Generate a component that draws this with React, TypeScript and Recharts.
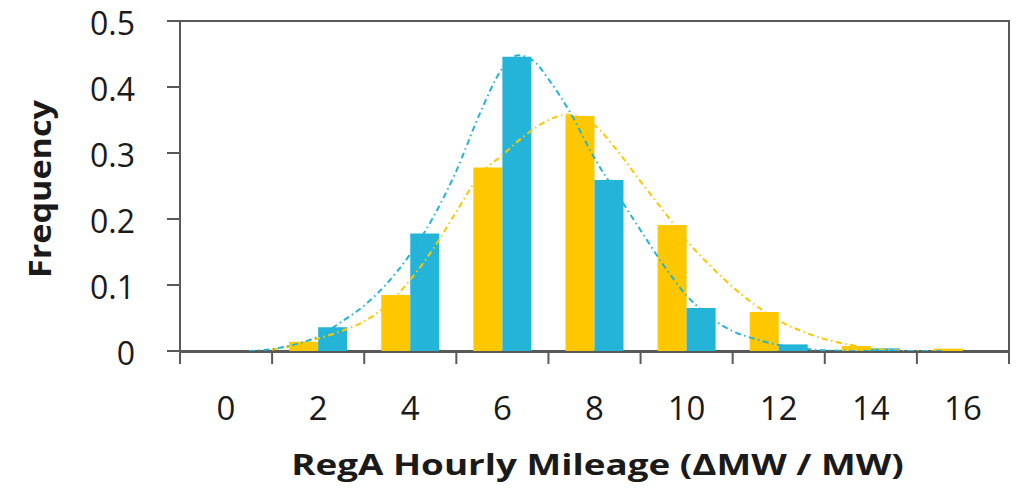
import React from 'react';
import { ComposedChart, Bar, Line, XAxis, YAxis, ReferenceArea } from 'recharts';

// Histogram bins (bin centres)
const categories = [0, 2, 4, 6, 8, 10, 12, 14, 16];
const yellowFreq = [0, 0.014, 0.085, 0.278, 0.356, 0.191, 0.059, 0.0075, 0.0035];
const blueFreq = [0, 0.036, 0.178, 0.446, 0.259, 0.065, 0.01, 0.004, 0];

const yTicks = [0, 0.1, 0.2, 0.3, 0.4, 0.5];
const yDomain: [number, number] = [0, 0.5];
const binEdges = [-1, 1, 3, 5, 7, 9, 11, 13, 15, 17];
const xDomain: [number, number] = [-1, 17];

// Fitted curves
const blueCurveX = [0.5, 1, 1.5, 2, 2.5, 3, 3.5, 4, 4.5, 5, 5.5, 6, 6.35, 6.7, 7, 7.5, 8, 8.5, 9, 9.5, 10, 10.5, 11, 11.5, 12, 12.5, 13, 14, 15, 15.6];
const blueCurveY = [0, 0.003, 0.01, 0.022, 0.044, 0.069, 0.103, 0.147, 0.203, 0.273, 0.358, 0.428, 0.448, 0.438, 0.412, 0.358, 0.292, 0.237, 0.183, 0.13, 0.084, 0.052, 0.03, 0.018, 0.009, 0.004, 0.001, 0, 0, 0];

const yellowCurveX = [1, 1.5, 2, 2.5, 3, 3.5, 4, 4.5, 5, 5.5, 6, 6.5, 7, 7.4, 8, 8.5, 9, 9.5, 10, 10.5, 11, 11.5, 12, 12.5, 13, 13.5, 14, 14.5, 15, 15.7];
const yellowCurveY = [0.002, 0.009, 0.019, 0.03, 0.045, 0.07, 0.108, 0.155, 0.211, 0.266, 0.297, 0.327, 0.35, 0.358, 0.342, 0.303, 0.257, 0.212, 0.167, 0.13, 0.097, 0.069, 0.046, 0.03, 0.018, 0.01, 0.004, 0.001, 0, 0];

const data = categories.map((c, i) => ({ cat: String(c), yellow: yellowFreq[i], blue: blueFreq[i] }));
const blueCurve = blueCurveX.map((x, i) => ({ x, y: blueCurveY[i] }));
const yellowCurve = yellowCurveX.map((x, i) => ({ x, y: yellowCurveY[i] }));

const YELLOW = '#FFC700';
const BLUE = '#23B4D7';
const AXIS = '#595959';
const TEXT = '#1a1a1a';
const FONT = "'Open Sans', sans-serif";

const axisLineStyle = { stroke: AXIS, strokeWidth: 2 };
const tickFont = { fontSize: 33, fill: TEXT, fontFamily: FONT };
const margin = { top: 21, right: 9, bottom: 138, left: 0 };

const YTitle = (props: any) => {
  const vb = props.viewBox || { x: 0, y: 21, width: 180, height: 330 };
  const cx = 39;
  const cy = vb.y + vb.height / 2 + 3;
  return (
    <g transform={`translate(${cx}, ${cy}) rotate(-90) scale(1.1, 1)`}>
      <text x={0} y={0} textAnchor="middle" dominantBaseline="central" fontFamily={FONT} fontWeight={700} fontSize={31} fill={TEXT}>
        Frequency
      </text>
    </g>
  );
};

const XTitle = (props: any) => {
  const vb = props.viewBox || { x: 180, y: 351, width: 829, height: 1 };
  const cx = vb.x + vb.width / 2 + 3;
  return (
    <g transform={`translate(${cx}, 475) scale(1.27, 1)`}>
      <text x={0} y={0} textAnchor="middle" fontFamily={FONT} fontWeight={700} fontSize={29} fill={TEXT}>
        RegA Hourly Mileage (ΔMW / MW)
      </text>
    </g>
  );
};

const YTick = (props: any) => {
  const { x, y, payload } = props;
  return (
    <text x={x} y={y + 13.5} textAnchor="end" fontFamily={FONT} fontSize={32} fill={TEXT}>
      {payload.value}
    </text>
  );
};

const renderXTitle = (p: any) => <XTitle {...p} />;
const renderYTitle = (p: any) => <YTitle {...p} />;
const renderYTick = (p: any) => <YTick {...p} />;
const renderNoTickLabel = () => <g />;

export default function App() {
  return (
    <div style={{ position: 'absolute', left: 0, top: 0, width: 1018, height: 491 }}>
      <ComposedChart width={1018} height={491} data={data} margin={margin} barCategoryGap="18.5%" barGap={0}>
        <XAxis
          xAxisId="num"
          type="number"
          dataKey="x"
          domain={xDomain}
          ticks={binEdges}
          interval={0}
          allowDataOverflow
          height={1}
          tick={renderNoTickLabel}
          tickSize={12}
          axisLine={axisLineStyle}
          tickLine={axisLineStyle}
        />
        <XAxis
          xAxisId="cat"
          dataKey="cat"
          height={1}
          interval={0}
          tickSize={0}
          tickMargin={46}
          axisLine={false}
          tickLine={false}
          tick={tickFont}
          label={renderXTitle}
        />
        <YAxis
          yAxisId="left"
          domain={yDomain}
          ticks={yTicks}
          interval={0}
          width={180}
          tickSize={13}
          tickMargin={32}
          tick={renderYTick}
          axisLine={axisLineStyle}
          tickLine={axisLineStyle}
          label={renderYTitle}
        />
        <ReferenceArea
          xAxisId="num"
          yAxisId="left"
          x1={-1}
          x2={17}
          y1={0}
          y2={0.5}
          fill="none"
          fillOpacity={0}
          stroke={AXIS}
          strokeWidth={2}
          ifOverflow="visible"
        />
        <Bar xAxisId="cat" yAxisId="left" dataKey="yellow" fill={YELLOW} isAnimationActive={false} />
        <Bar xAxisId="cat" yAxisId="left" dataKey="blue" fill={BLUE} isAnimationActive={false} />
        <Line
          xAxisId="num"
          yAxisId="left"
          data={yellowCurve}
          dataKey="y"
          type="monotone"
          stroke={YELLOW}
          strokeWidth={2}
          strokeDasharray="6 3.5 1.5 3.5"
          dot={false}
          activeDot={false}
          isAnimationActive={false}
        />
        <Line
          xAxisId="num"
          yAxisId="left"
          data={blueCurve}
          dataKey="y"
          type="monotone"
          stroke={BLUE}
          strokeWidth={2}
          strokeDasharray="6 3.5 1.5 3.5"
          dot={false}
          activeDot={false}
          isAnimationActive={false}
        />
      </ComposedChart>
    </div>
  );
}
